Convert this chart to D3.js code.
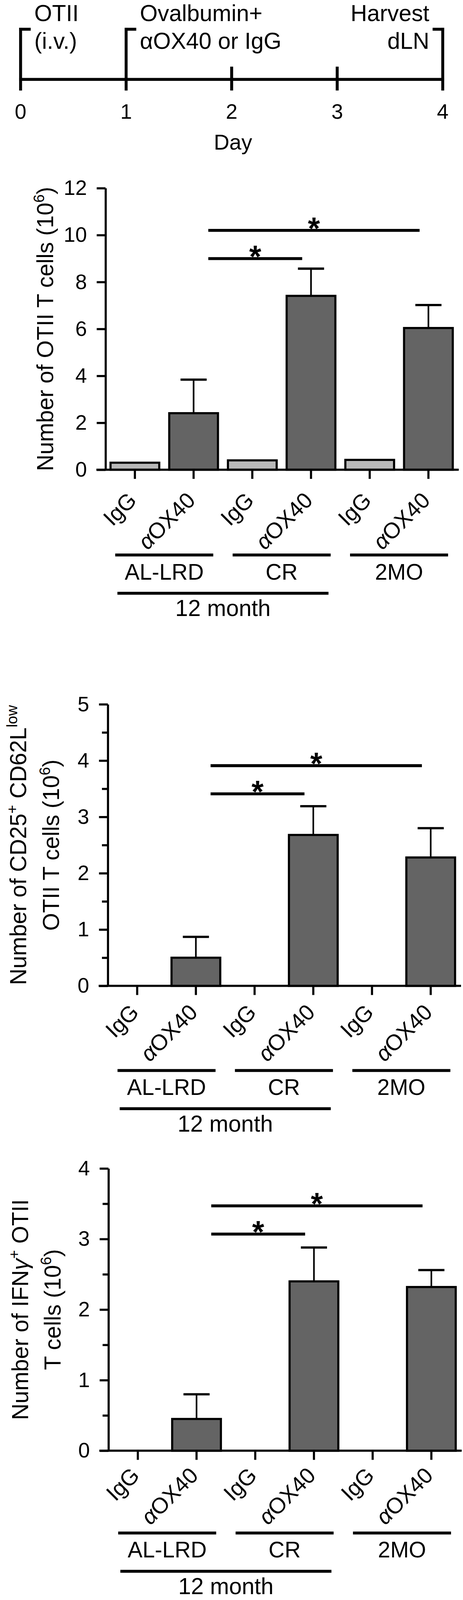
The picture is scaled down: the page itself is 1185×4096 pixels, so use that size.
<!DOCTYPE html>
<html>
<head>
<meta charset="utf-8">
<script src="https://d3js.org/d3.v7.min.js"></script>
<style>
  body { margin: 0; background: #fff; }
  text { font-family: "Liberation Sans", Arial, Helvetica, sans-serif; fill: #000; }
</style>
</head>
<body>
<script>
// ---- timeline ----
var days = [0, 1, 2, 3, 4];
var events = [
  {day: 0, dir: 1, lines: ["OTII", "(i.v.)"]},
  {day: 1, dir: 1, lines: ["Ovalbumin+", "αOX40 or IgG"]},
  {day: 4, dir: -1, lines: ["Harvest", "dLN"]}
];

// ---- bar charts ----
var categories = ["AL-LRD IgG", "AL-LRD aOX40", "CR IgG", "CR aOX40", "2MO IgG", "2MO aOX40"];
var treatments = ["IgG", "αOX40", "IgG", "αOX40", "IgG", "αOX40"];
var groups = ["AL-LRD", "CR", "2MO"];
var ageLabel = "12 month";

var otiiMean = [0.30, 2.41, 0.40, 7.41, 0.42, 6.04];
var otiiSem  = [0, 1.43, 0, 1.16, 0, 0.98];
var otiiTicks = [0, 2, 4, 6, 8, 10, 12];
var otiiMinor = [];
var otiiSig = [[1, 3, 9.0], [1, 5, 10.2]];

var cd25Mean = [0, 0.50, 0, 2.68, 0, 2.28];
var cd25Sem  = [0, 0.37, 0, 0.51, 0, 0.52];
var cd25Ticks = [0, 1, 2, 3, 4, 5];
var cd25Minor = [0.5, 1.5, 2.5, 3.5, 4.5];
var cd25Sig = [[1, 3, 3.41], [1, 5, 3.91]];

var ifngMean = [0, 0.45, 0, 2.40, 0, 2.32];
var ifngSem  = [0, 0.35, 0, 0.48, 0, 0.24];
var ifngTicks = [0, 1, 2, 3, 4];
var ifngMinor = [0.5, 1.5, 2.5, 3.5];
var ifngSig = [[1, 3, 3.07], [1, 5, 3.47]];

// title lines: pieces, "^" marks superscript, "~" marks italic
var otiiTitle = [[["Number of OTII T cells (10"], ["6", "^"], [")"]]];
var cd25Title = [[["Number of CD25"], ["+", "^"], [" CD62L"], ["low", "^"]],
                 [["OTII T cells (10"], ["6", "^"], [")"]]];
var ifngTitle = [[["Number of IFN"], ["γ", "~"], ["+", "^"], [" OTII"]],
                 [["T cells (10"], ["6", "^"], [")"]]];

var svg = d3.select("body").append("svg")
    .attr("width", 1185)
    .attr("height", 4096)
    .attr("viewBox", "0 0 1417 4898");

// timeline
var t = d3.scaleLinear().domain([0, 4]).range([63, 1355]);
var lineY = 243;
var tl = svg.append("g").attr("stroke", "#000").attr("stroke-width", 9);
tl.append("line")
    .attr("x1", t(0) - 4.5).attr("x2", t(4) + 4.5)
    .attr("y1", lineY).attr("y2", lineY);
tl.selectAll("line.day").data(days).join("line")
    .attr("class", "day")
    .attr("x1", d => t(d)).attr("x2", d => t(d))
    .attr("y1", d => events.some(e => e.day == d) ? 85 : 204)
    .attr("y2", 277);
tl.selectAll("line.brk").data(events).join("line")
    .attr("class", "brk")
    .attr("x1", d => t(d.day) - 4.5 * d.dir)
    .attr("x2", d => t(d.day) + 31 * d.dir)
    .attr("y1", 89.5).attr("y2", 89.5);

svg.selectAll("text.day").data(days).join("text")
    .attr("x", d => t(d)).attr("y", 364)
    .attr("text-anchor", "middle").attr("font-size", 64)
    .text(d => d);
svg.append("text")
    .attr("x", t(2) + 4).attr("y", 458)
    .attr("text-anchor", "middle").attr("font-size", 66)
    .text("Day");

events.forEach(function(e) {
  e.lines.forEach(function(s, i) {
    svg.append("text")
        .attr("x", t(e.day) + (e.dir > 0 ? 42 : -41))
        .attr("y", i == 0 ? 64 : 149)
        .attr("text-anchor", e.dir > 0 ? "start" : "end")
        .attr("font-size", 70)
        .text(s);
  });
});

function addPieces(text, pieces, supShift) {
  var up = 0;
  pieces.forEach(function(p) {
    var ts = text.append("tspan").text(p[0]);
    if (p[1] == "^") {
      ts.attr("font-size", "0.65em").attr("dy", -supShift - up);
      up = -supShift;
    } else {
      if (up != 0) ts.attr("dy", -up);
      up = 0;
      if (p[1] == "~") ts.attr("font-style", "italic");
    }
  });
}

function panel(p) {
  var g = svg.append("g").attr("transform", "translate(" + p.left + ",0)");

  var x = d3.scaleBand().domain(categories)
      .range([0, 1078]).paddingInner(0.17).paddingOuter(0.085);
  var y = d3.scaleLinear().domain([0, p.max]).range([p.base, p.top]);
  var cx = i => x(categories[i]) + x.bandwidth() / 2;

  g.selectAll("rect.bar").data(p.mean).join("rect")
      .attr("class", "bar")
      .attr("x", (d, i) => x(categories[i]))
      .attr("y", d => y(d))
      .attr("width", x.bandwidth())
      .attr("height", d => y(0) - y(d))
      .attr("fill", (d, i) => i % 2 ? "#646464" : "#b9b9b9")
      .attr("stroke", "#000")
      .attr("stroke-width", 6.5);

  var err = p.mean.map((m, i) => ({i: i, m: m, s: p.sem[i]})).filter(d => d.s > 0);
  g.selectAll("line.stem").data(err).join("line")
      .attr("x1", d => cx(d.i)).attr("x2", d => cx(d.i))
      .attr("y1", d => y(d.m)).attr("y2", d => y(d.m + d.s))
      .attr("stroke", "#000").attr("stroke-width", 5);
  g.selectAll("line.cap").data(err).join("line")
      .attr("x1", d => cx(d.i) - 40).attr("x2", d => cx(d.i) + 40)
      .attr("y1", d => y(d.m + d.s)).attr("y2", d => y(d.m + d.s))
      .attr("stroke", "#000").attr("stroke-width", 7);

  // y axis
  var ya = g.append("g")
      .call(d3.axisLeft(y).tickValues(p.ticks).tickFormat(d3.format("d"))
        .tickSize(27).tickSizeOuter(0).tickPadding(30));
  ya.selectAll("path, line").attr("stroke", "#000").attr("stroke-width", 6.5);
  ya.selectAll("text").attr("font-size", 64).attr("fill", "#000")
      .attr("font-family", "Liberation Sans, Arial, sans-serif");
  if (p.minor.length) {
    var ym = g.append("g")
        .call(d3.axisLeft(y).tickValues(p.minor).tickSize(18).tickFormat(""));
    ym.select(".domain").remove();
    ym.selectAll("line").attr("stroke", "#000").attr("stroke-width", 6.5);
  }

  // x axis
  var xa = g.append("g").attr("transform", "translate(0," + p.base + ")")
      .call(d3.axisBottom(x).tickSize(28).tickSizeOuter(0).tickFormat(""));
  xa.select(".domain").remove();
  xa.selectAll("line").attr("stroke", "#000").attr("stroke-width", 6.5);
  g.append("line")
      .attr("x1", -28).attr("x2", 1081)
      .attr("y1", p.base).attr("y2", p.base)
      .attr("stroke", "#000").attr("stroke-width", 6.5);

  // rotated treatment labels
  treatments.forEach(function(s, i) {
    var lab = g.append("text")
        .attr("transform", "translate(" + (cx(i) + 9) + "," + (p.base + p.lab) + ") rotate(-45)")
        .attr("text-anchor", "end")
        .attr("font-size", 68);
    if (s.charAt(0) == "α") {
      lab.append("tspan").attr("font-style", "italic").text("α");
      lab.append("tspan").text(s.slice(1));
    } else {
      lab.text(s);
    }
  });

  // group bars
  var b = p.base + p.shift;
  groups.forEach(function(s, k) {
    var c = (cx(2 * k) + cx(2 * k + 1)) / 2;
    g.append("line")
        .attr("x1", c - 150).attr("x2", c + 150)
        .attr("y1", b + 261).attr("y2", b + 261)
        .attr("stroke", "#000").attr("stroke-width", 9);
    g.append("text")
        .attr("x", c).attr("y", b + 336)
        .attr("text-anchor", "middle").attr("font-size", 68)
        .text(s);
  });
  var c12 = (cx(0) + cx(3)) / 2;
  g.append("line")
      .attr("x1", c12 - 323).attr("x2", c12 + 323)
      .attr("y1", b + 378).attr("y2", b + 378)
      .attr("stroke", "#000").attr("stroke-width", 9);
  g.append("text")
      .attr("x", c12).attr("y", b + 448)
      .attr("text-anchor", "middle").attr("font-size", 70)
      .text(ageLabel);

  // significance
  p.sig.forEach(function(s) {
    var x1 = cx(s[0]) + 45, x2 = cx(s[1]) - 27;
    g.append("line")
        .attr("x1", x1).attr("x2", x2)
        .attr("y1", y(s[2])).attr("y2", y(s[2]))
        .attr("stroke", "#000").attr("stroke-width", 9);
    g.append("text")
        .attr("x", (x1 + x2) / 2).attr("y", y(s[2]) + 26)
        .attr("text-anchor", "middle").attr("font-size", 95).attr("font-weight", "bold")
        .text("*");
  });

  // y title
  var mid = (p.base + p.top) / 2;
  p.title.forEach(function(pieces, i) {
    var tt = svg.append("text")
        .attr("transform", "translate(" + p.titleX[i] + "," + mid + ") rotate(-90)")
        .attr("text-anchor", "middle")
        .attr("font-size", 70);
    addPieces(tt, pieces, 28);
  });
}

panel({left: 323, base: 1438, top: 576, max: 12, ticks: otiiTicks, minor: otiiMinor,
       mean: otiiMean, sem: otiiSem, sig: otiiSig, title: otiiTitle, titleX: [163], lab: 98, shift: 0});
panel({left: 330, base: 3018, top: 2156, max: 5, ticks: cd25Ticks, minor: cd25Minor,
       mean: cd25Mean, sem: cd25Sem, sig: cd25Sig, title: cd25Title, titleX: [80, 181], lab: 85, shift: -2});
panel({left: 332, base: 4441, top: 3577, max: 4, ticks: ifngTicks, minor: ifngMinor,
       mean: ifngMean, sem: ifngSem, sig: ifngSig, title: ifngTitle, titleX: [86, 185], lab: 80, shift: -9});
</script>
</body>
</html>
